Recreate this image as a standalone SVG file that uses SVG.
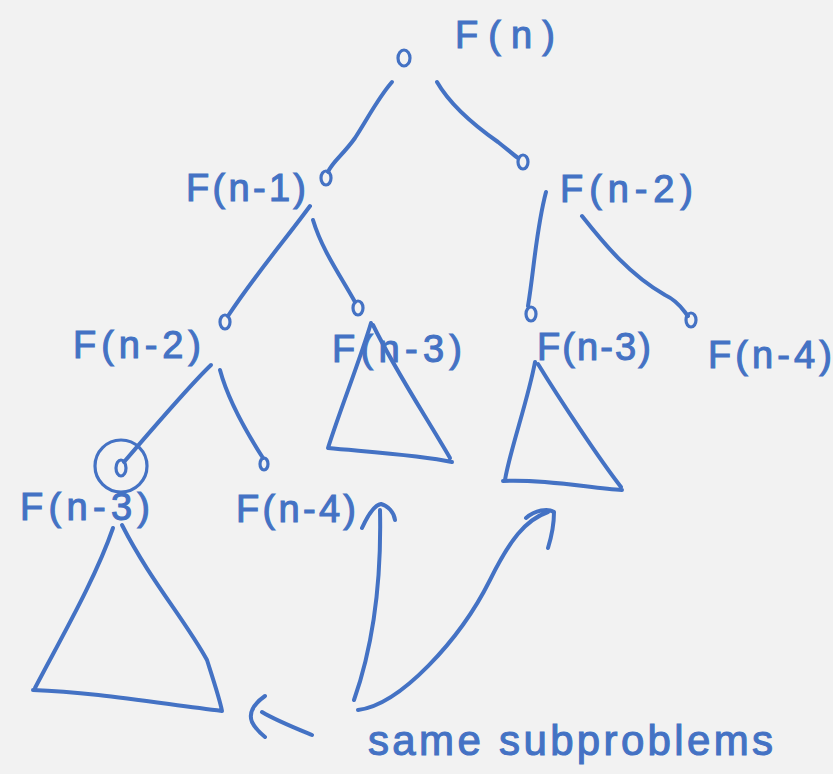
<svg xmlns="http://www.w3.org/2000/svg" width="833" height="774" viewBox="0 0 833 774">
<style>
.ln{fill:none;stroke:#4472C4;stroke-width:4;stroke-linecap:round;stroke-linejoin:round}
.nd{fill:none;stroke:#4472C4;stroke-width:3.2}
.lb{font-family:"Liberation Sans",Arial,sans-serif;fill:#4472C4;stroke:#4472C4;stroke-width:1.1;font-size:38px;lengthAdjust:spacingAndGlyphs}
</style>
<rect width="833" height="774" fill="#F2F2F2"/>
<g id="connectors">
<path class="ln" d="M392,82 C378,98 368,118 355,138 C343,155 332,162 328,172"/>
<path class="ln" d="M437,82 C452,108 478,128 498,142 C508,150 514,155 518,158"/>
<path class="ln" d="M310,206 C285,240 255,275 228,316"/>
<path class="ln" d="M313,220 C322,250 340,275 355,302"/>
<path class="ln" d="M546,192 C536,230 534,270 528,306"/>
<path class="ln" d="M582,216 C605,245 630,275 665,295 C680,302 684,312 688,316"/>
<path class="ln" d="M211,365 C190,385 160,420 124,462"/>
<path class="ln" d="M220,370 C228,400 245,430 263,458"/>
</g>
<g id="n-root"><ellipse class="nd" cx="404" cy="58" rx="6" ry="8"/><text class="lb" x="455" y="48" textLength="100">F(n)</text></g>
<g id="n-1"><ellipse class="nd" cx="326" cy="178" rx="5" ry="7"/><text class="lb" x="186" y="201" textLength="120">F(n-1)</text></g>
<g id="n-2"><ellipse class="nd" cx="523" cy="162" rx="5" ry="7"/><text class="lb" x="560" y="202" textLength="133">F(n-2)</text></g>
<g id="n-2a"><ellipse class="nd" cx="225" cy="322" rx="5" ry="7"/><text class="lb" x="73" y="358" textLength="128">F(n-2)</text></g>
<g id="n-3a"><ellipse class="nd" cx="358" cy="308" rx="5" ry="7"/><text class="lb" x="332" y="362" textLength="130">F(n-3)</text>
<path class="ln" d="M371,323 C360,360 340,410 328,448 M328,448 C370,452 420,455 452,462 M373,325 C395,370 425,415 450,458"/></g>
<g id="n-3b"><ellipse class="nd" cx="531" cy="314" rx="5" ry="7"/><text class="lb" x="537" y="360" textLength="114">F(n-3)</text>
<path class="ln" d="M535,362 C528,400 510,450 505,480 M503,481 C545,479 590,488 622,490 M538,364 C560,400 600,460 621,487"/></g>
<g id="n-4a"><ellipse class="nd" cx="691" cy="320" rx="5" ry="7"/><text class="lb" x="708" y="368" textLength="124">F(n-4)</text></g>
<g id="n-3c"><ellipse class="nd" cx="121" cy="468" rx="5" ry="8"/><circle class="nd" cx="121" cy="466" r="26"/><text class="lb" x="20" y="520" textLength="130">F(n-3)</text>
<path class="ln" d="M113,528 C95,580 60,640 35,688 M33,690 C90,692 150,702 222,711 M122,525 C150,580 185,620 207,660 C215,685 220,700 222,711"/></g>
<g id="n-4b"><ellipse class="nd" cx="264" cy="464" rx="4" ry="6"/><text class="lb" x="236" y="522" textLength="120">F(n-4)</text></g>
<g id="annotation">
<path class="ln" d="M354,700 C368,660 382,600 380,510 M362,528 C368,515 374,505 381,504 C388,506 394,512 395,520"/>
<path class="ln" d="M358,710 C400,705 460,640 490,580 C510,540 525,520 548,512 M526,518 C535,510 548,508 554,512 C554,525 552,535 548,548"/>
<path class="ln" d="M312,735 C295,728 275,720 262,712 M265,696 C255,703 248,712 252,722 C255,728 260,733 265,737"/>
<text class="lb" x="368" y="755" textLength="405" style="font-size:42px">same subproblems</text>
</g>
</svg>
